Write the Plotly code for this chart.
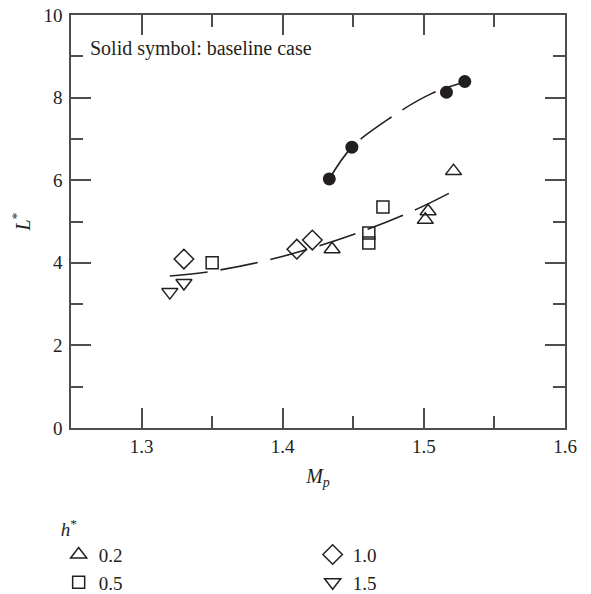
import plotly.graph_objects as go

# ---- data ----
baseline_mp = [1.433, 1.449, 1.516, 1.529]
baseline_L = [6.03, 6.80, 8.13, 8.39]

h02_mp = [1.435, 1.501, 1.503, 1.521]
h02_L = [4.33, 5.04, 5.25, 6.22]

h05_mp = [1.350, 1.461, 1.461, 1.471]
h05_L = [4.00, 4.48, 4.72, 5.35]

h10_mp = [1.330, 1.410, 1.421]
h10_L = [4.09, 4.33, 4.55]

h15_mp = [1.320, 1.330]
h15_L = [3.29, 3.51]

# dashed trend curves
fit_low_mp = [1.320, 1.347, 1.384, 1.421, 1.457, 1.495, 1.521]
fit_low_L = [3.68, 3.78, 4.02, 4.36, 4.77, 5.30, 5.74]
fit_base_mp = [1.433, 1.449, 1.477, 1.505, 1.529]
fit_base_L = [6.03, 6.80, 7.53, 8.09, 8.38]

x_ticks = [1.3, 1.4, 1.5, 1.6]
y_ticks = [0, 2, 4, 6, 8, 10]

INK = "#231f20"
AXIS = "#4d4d4d"
FONT = "Liberation Serif"

fig = go.Figure()

dash = "38px,13px"
fig.add_trace(go.Scatter(x=fit_low_mp, y=fit_low_L, mode="lines",
                         line=dict(color=INK, width=1.6, dash=dash, shape="spline"),
                         showlegend=False, hoverinfo="skip"))
fig.add_trace(go.Scatter(x=fit_base_mp, y=fit_base_L, mode="lines",
                         line=dict(color=INK, width=1.6, dash=dash, shape="spline"),
                         showlegend=False, hoverinfo="skip"))

fig.add_trace(go.Scatter(x=baseline_mp, y=baseline_L, mode="markers",
                         marker=dict(symbol="circle", size=13, color=INK,
                                     line=dict(width=0)),
                         showlegend=False))

def open_marker(sym, size):
    return dict(symbol=sym, size=size, color=INK,
                line=dict(color=INK, width=1.5))

# order so horizontal legend fills rows: [0.2, 1.0], [0.5, 1.5]
fig.add_trace(go.Scatter(x=h02_mp, y=h02_L, mode="markers", name="0.2",
                         marker=open_marker("triangle-up-open", 14)))
fig.add_trace(go.Scatter(x=h10_mp, y=h10_L, mode="markers", name="1.0",
                         marker=open_marker("diamond-open", 15)))
fig.add_trace(go.Scatter(x=h05_mp, y=h05_L, mode="markers", name="0.5",
                         marker=open_marker("square-open", 12)))
fig.add_trace(go.Scatter(x=h15_mp, y=h15_L, mode="markers", name="1.5",
                         marker=open_marker("triangle-down-open", 14)))

fig.add_annotation(text="Solid symbol: baseline case", xref="paper", yref="paper",
                   x=0.035, y=0.92, xanchor="left", yanchor="middle",
                   showarrow=False, font=dict(family=FONT, size=20, color=INK))

axis_common = dict(showline=True, linecolor=AXIS, linewidth=1.5, mirror="allticks",
                   ticks="inside", ticklen=20, tickwidth=1.5, tickcolor=AXIS,
                   showgrid=False, zeroline=False,
                   tickfont=dict(family=FONT, size=19, color=INK))

fig.update_xaxes(range=[1.25, 1.6], tickvals=x_ticks, ticktext=[f"{v:.1f}" for v in x_ticks],
                 minor=dict(ticks="inside", ticklen=12, tickwidth=1.5, tickcolor=AXIS,
                            dtick=0.05, tick0=1.25),
                 title=dict(text="<i>M<sub>p</sub></i>", font=dict(family=FONT, size=20, color=INK),
                            standoff=13),
                 **axis_common)
fig.update_yaxes(range=[0, 10], tickvals=y_ticks, ticktext=[str(v) for v in y_ticks],
                 minor=dict(ticks="inside", ticklen=12, tickwidth=1.5, tickcolor=AXIS,
                            dtick=1, tick0=0),
                 ticklabelstandoff=3,
                 title=dict(text="<i>L</i><sup>*</sup>", font=dict(family=FONT, size=20, color=INK),
                            standoff=7),
                 **axis_common)

fig.update_layout(
    width=591, height=594,
    margin=dict(l=71, r=26, t=15, b=166, autoexpand=False),
    plot_bgcolor="white", paper_bgcolor="white",
    font=dict(family=FONT, color=INK),
    legend=dict(orientation="h", x=-0.025, xanchor="left", y=-0.201, yanchor="top",
                entrywidth=209, entrywidthmode="pixels",
                title=dict(text="<i>h</i><sup>*</sup>", side="top",
                           font=dict(family=FONT, size=19, color=INK)),
                font=dict(family=FONT, size=19, color=INK),
                bgcolor="rgba(0,0,0,0)", itemsizing="trace", tracegroupgap=0),
)

fig.write_html("out.html")
